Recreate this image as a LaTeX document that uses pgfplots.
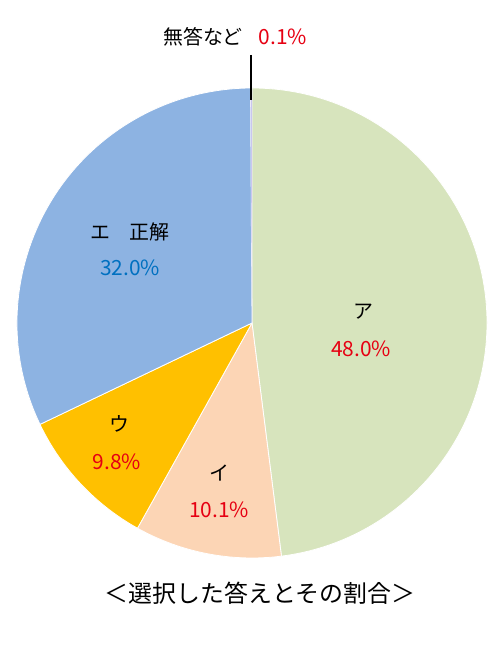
\documentclass[border=0pt]{standalone}
\usepackage{pgfplots}
\usepackage{pgfplotstable}
\pgfplotsset{compat=1.18}
\usepackage{fontspec}
\setmainfont{Noto Sans CJK JP}

\definecolor{colA}{HTML}{D7E4BD}
\definecolor{colI}{HTML}{FCD5B5}
\definecolor{colU}{HTML}{FFC000}
\definecolor{colE}{HTML}{8DB3E2}
\definecolor{colN}{HTML}{C9C6F0}
\definecolor{pctred}{HTML}{E60012}
\definecolor{pctblue}{HTML}{0070C0}

% share of each answer, clockwise from the top
\pgfplotstableread{
pct
48.0
10.1
9.8
32.0
0.1
}\piedata

\begin{document}
\begin{tikzpicture}
% start and end angle of every slice
\def\angstart{90}
\foreach \i in {0,...,4}{%
  \pgfplotstablegetelem{\i}{pct}\of\piedata
  \pgfmathsetmacro\angend{\angstart-3.6*\pgfplotsretval}%
  \expandafter\xdef\csname s\i\endcsname{\angstart}%
  \expandafter\xdef\csname e\i\endcsname{\angend}%
  \xdef\angstart{\angend}%
}
\begin{axis}[
    x=1bp, y=1bp,
    xmin=0, xmax=500, ymin=0, ymax=660,
    hide axis, ticks=none, clip=false,
]
\coordinate (bbsw) at (axis cs:0,0);
\coordinate (bbne) at (axis cs:500,660);
\def\R{235bp}
\def\slice#1#2{%
  \fill[#2, draw=white, line width=0.8pt] (axis cs:252,337) -- ++(\csname s#1\endcsname:\R)
    arc[start angle=\csname s#1\endcsname, end angle=\csname e#1\endcsname, radius=\R] -- cycle;}
\slice{0}{colA}
\slice{1}{colI}
\slice{2}{colU}
\slice{3}{colE}
\fill[colN] (axis cs:252,337) -- ++(\csname s4\endcsname:\R)
    arc[start angle=\csname s4\endcsname, end angle=\csname e4\endcsname, radius=\R] -- cycle;

\tikzset{lab/.style={font=\fontsize{20}{20}\selectfont, inner sep=0pt},
         num/.style={font=\fontsize{21}{21}\selectfont, inner sep=0pt}}
\node[lab] at (axis cs:363,348) {ア};
\node[num, text=pctred] at (axis cs:361,311) {48.0\%};
\node[lab] at (axis cs:130,428) {エ\hspace{1em}正解};
\node[num, text=pctblue] at (axis cs:130,392) {32.0\%};
\node[lab] at (axis cs:119,236) {ウ};
\node[num, text=pctred] at (axis cs:117,198) {9.8\%};
\node[lab] at (axis cs:219,187) {イ};
\node[num, text=pctred] at (axis cs:219,150) {10.1\%};
\node[lab] at (axis cs:203,623) {無答など};
\node[num, text=pctred] at (axis cs:283,623) {0.1\%};
\draw[black, line width=1.5pt] (axis cs:251,605) -- (axis cs:251,560);

\node[font=\fontsize{24}{24}\selectfont, inner sep=0pt] at (axis cs:260,67) {＜選択した答えとその割合＞};
\end{axis}
\pgfresetboundingbox
\path (bbsw) rectangle (bbne);
\end{tikzpicture}
\end{document}
